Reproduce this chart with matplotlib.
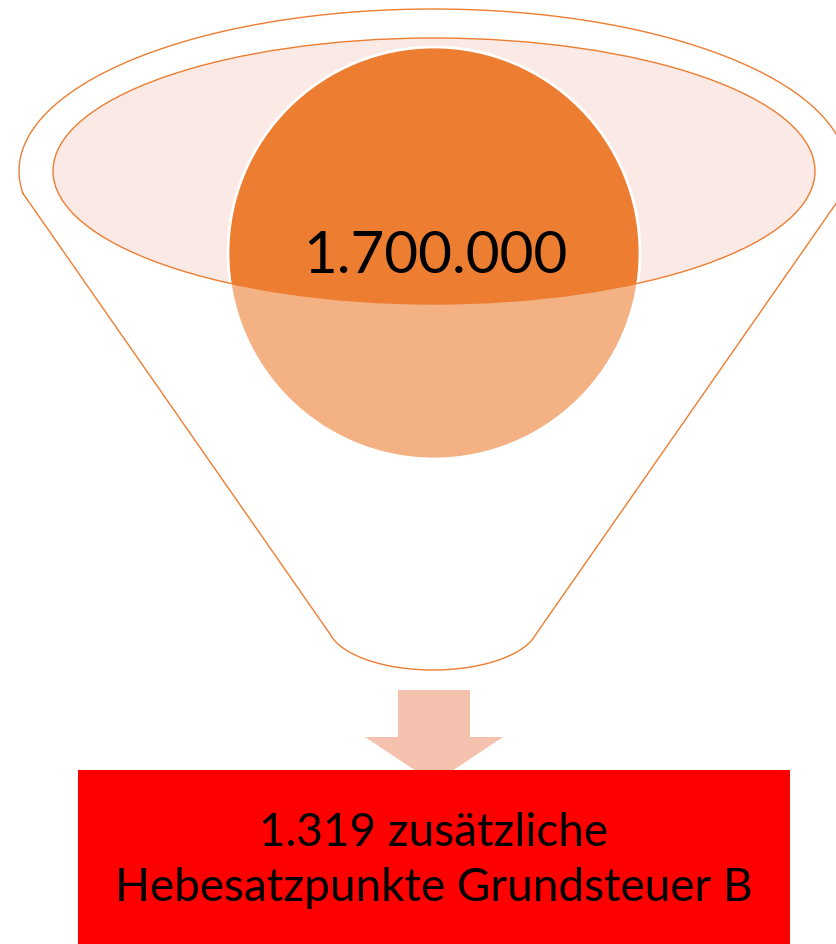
import numpy as np
import matplotlib
matplotlib.use("Agg")
import matplotlib.pyplot as plt
from matplotlib.patches import Ellipse, Circle, Polygon, Rectangle

# --- content ---
funnel_value = "1.700.000"
result_lines = ["1.319 zusätzliche", "Hebesatzpunkte Grundsteuer B"]

ORANGE = "#ED7D31"
CIRCLE_DARK = "#ED7D31"
CIRCLE_LIGHT = "#F4B183"
ELLIPSE_FILL = "#FBE9E5"
ARROW = "#F4C1AF"
RED = "#FF0000"

W, H = 836, 945
fig = plt.figure(figsize=(W / 100, H / 100), dpi=100)
ax = fig.add_axes([0, 0, 1, 1])
ax.set_xlim(0, W)
ax.set_ylim(H, 0)
ax.axis("off")

# outer funnel outline (screen coords, y downward)
cx, cy, a, b = 433, 172, 414, 162
xl, xr = 23, 843
th1 = np.arccos((xl - cx) / a)          # lower-left point (sin > 0 => below center)
th2 = np.arccos((xr - cx) / a)          # lower-right point
thetas = np.linspace(th1, 2 * np.pi + th2, 400)  # passes 3*pi/2 => top
top_x = cx + a * np.cos(thetas)
top_y = cy + b * np.sin(thetas)
# bottom curve
bcx, bcy, ba, bb = 433, 625, 105.5, 46
bth1 = np.arctan2((635 - bcy) / bb, (535 - bcx) / ba)
bth2 = np.arctan2((635 - bcy) / bb, (331 - bcx) / ba)
bthetas = np.linspace(bth1, bth2, 200)
bot_x = bcx + ba * np.cos(bthetas)
bot_y = bcy + bb * np.sin(bthetas)
px = np.concatenate([top_x, bot_x, [top_x[0]]])
py = np.concatenate([top_y, bot_y, [top_y[0]]])
ax.plot(px, py, color=ORANGE, lw=1.0, solid_joinstyle="round", zorder=1)

# inner ellipse
ell_c, ell_w, ell_h = (434, 172), 762, 266
ax.add_patch(Ellipse(ell_c, ell_w, ell_h, facecolor=ELLIPSE_FILL, edgecolor="none", zorder=2))

# circle (light lower part, dark inside ellipse)
circ_c, circ_r = (434, 254), 206
ax.add_patch(Circle(circ_c, circ_r, facecolor=CIRCLE_LIGHT, edgecolor="none", zorder=3))
dark = Circle(circ_c, circ_r, facecolor=CIRCLE_DARK, edgecolor="none", zorder=4)
ax.add_patch(dark)
clip_ell = Ellipse(ell_c, ell_w, ell_h, transform=ax.transData, facecolor="none", edgecolor="none")
ax.add_patch(clip_ell)
dark.set_clip_path(clip_ell)
ax.add_patch(Circle(circ_c, circ_r, facecolor="none", edgecolor="white", lw=2.0, zorder=5))
ax.add_patch(Ellipse(ell_c, ell_w, ell_h, facecolor="none", edgecolor=ORANGE, lw=1.0, zorder=6))

ax.text(435, 273, funnel_value, ha="center", va="baseline", fontsize=42,
        family="Lato", color="black", zorder=7)

# arrow
arrow_pts = [(398, 691), (470, 691), (470, 738), (503, 738), (434, 784),
             (365, 738), (398, 738)]
ax.add_patch(Polygon(arrow_pts, closed=True, facecolor=ARROW, edgecolor="none", zorder=2))

# red box
ax.add_patch(Rectangle((78, 771), 712, 180, facecolor=RED, edgecolor="none", zorder=3))
ax.text(434, 833, result_lines[0], ha="center", va="center", fontsize=33,
        family="Lato", color="black", zorder=4)
ax.text(434, 888, result_lines[1], ha="center", va="center", fontsize=33,
        family="Lato", color="black", zorder=4)

fig.savefig("out.png", dpi=100)
